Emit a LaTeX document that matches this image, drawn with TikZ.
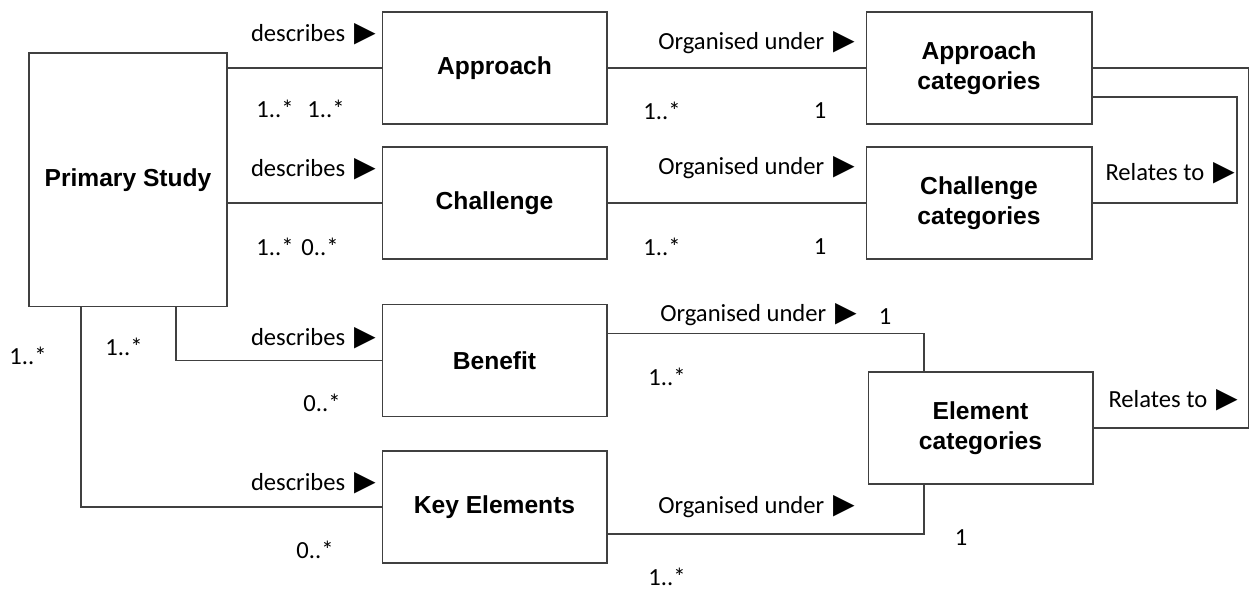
\documentclass[tikz,border=0pt]{standalone}
\usepackage{fontspec}
\setmainfont{Carlito}
\newfontfamily\boxfont{Liberation Sans}
\newfontfamily\symfont{DejaVu Sans}
\usetikzlibrary{calc}
\newcommand{\tri}{\hspace{5pt}{\symfont\fontsize{16}{16}\selectfont ▶}}

\begin{document}
\begin{tikzpicture}[x=0.02cm, y=-0.02cm,
    entity/.style={draw=black!75, line width=0.6pt, fill=white, inner sep=0pt, outer sep=0pt,
        minimum width=4.5cm, minimum height=2.24cm, align=center,
        font=\boxfont\bfseries\fontsize{14}{17}\selectfont},
    link/.style={draw=black!75, line width=0.6pt},
    lbl/.style={inner sep=0pt, font=\fontsize{14}{17}\selectfont}]
    \useasboundingbox (0,0) rectangle (1250,590);

    % 实体框
    \node[entity, minimum width=3.96cm, minimum height=5.08cm] (ps) at (128,180) {Primary Study};
    \node[entity] (ap) at (494.5,68) {Approach};
    \node[entity] (ch) at (494.5,203) {Challenge};
    \node[entity] (be) at (494.5,360.5) {Benefit};
    \node[entity] (ke) at (494.5,507) {Key Elements};
    \node[entity, minimum width=4.52cm] (ac) at (979,68) {Approach\\categories};
    \node[entity, minimum width=4.52cm] (cc) at (979,203) {Challenge\\categories};
    \node[entity] (ec) at (980.5,428) {Element\\categories};

    % Primary Study 到四个实体
    \draw[link] (ps.east |- ap.west) -- (ap.west);
    \draw[link] (ps.east |- ch.west) -- (ch.west);
    \draw[link] ($(ps.south)+(48,0)$) |- (be.west);
    \draw[link] ($(ps.south)+(-47,0)$) |- (ke.west);

    % 实体到类别
    \draw[link] (ap.east) -- (ac.west);
    \draw[link] (ch.east) -- (cc.west);
    \draw[link] ($(be.north east)+(0,29)$) -| ($(ec.north)+(-56.5,0)$);
    \draw[link] ($(ke.south east)+(0,-29)$) -| ($(ec.south)+(-56.5,0)$);

    % 类别之间的关系
    \coordinate (outer) at (1248.5,68);
    \coordinate (inner) at (1237,97);
    \draw[link] (ec.east) -| (outer) -- (ac.east);
    \draw[link] (cc.east) -| (inner) -- (ac.east |- inner);

    % describes 标签
    \node[lbl, anchor=east] (d1) at (376,34) {describes\tri};
    \node[lbl, anchor=east] (d2) at (376,169) {describes\tri};
    \node[lbl, anchor=east] (d3) at (376,338) {describes\tri};
    \node[lbl, anchor=east] (d4) at (376,483) {describes\tri};

    % Primary Study 一侧的多重性
    \node[lbl] (m1) at (275,109) {1..*};
    \node[lbl] (m2) at (326,109) {1..*};
    \node[lbl] (m3) at (275,247) {1..*};
    \node[lbl] (m4) at (320,247) {0..*};
    \node[lbl] (m5) at (28,356) {1..*};
    \node[lbl] (m6) at (124,347) {1..*};
    \node[lbl] (m7) at (322,403) {0..*};
    \node[lbl] (m8) at (315,550) {0..*};

    % Organised under 标签
    \node[lbl, anchor=east] (o1) at (855,43) {Organised under\tri};
    \node[lbl, anchor=east] (o2) at (855,168) {Organised under\tri};
    \node[lbl, anchor=east] (o3) at (857,315) {Organised under\tri};
    \node[lbl, anchor=east] (o4) at (855,507) {Organised under\tri};

    % 类别一侧的多重性
    \node[lbl] (n1) at (662,111) {1..*};
    \node[lbl] (n2) at (820,111) {1};
    \node[lbl] (n3) at (662,247) {1..*};
    \node[lbl] (n4) at (820,247) {1};
    \node[lbl] (n5) at (885,317) {1};
    \node[lbl] (n6) at (667,377) {1..*};
    \node[lbl] (n7) at (961,538) {1};
    \node[lbl] (n8) at (667,577) {1..*};

    % Relates to 标签
    \node[lbl, anchor=east] (r1) at (1235,173) {Relates to\tri};
    \node[lbl, anchor=east] (r2) at (1238,400) {Relates to\tri};
\end{tikzpicture}
\end{document}
